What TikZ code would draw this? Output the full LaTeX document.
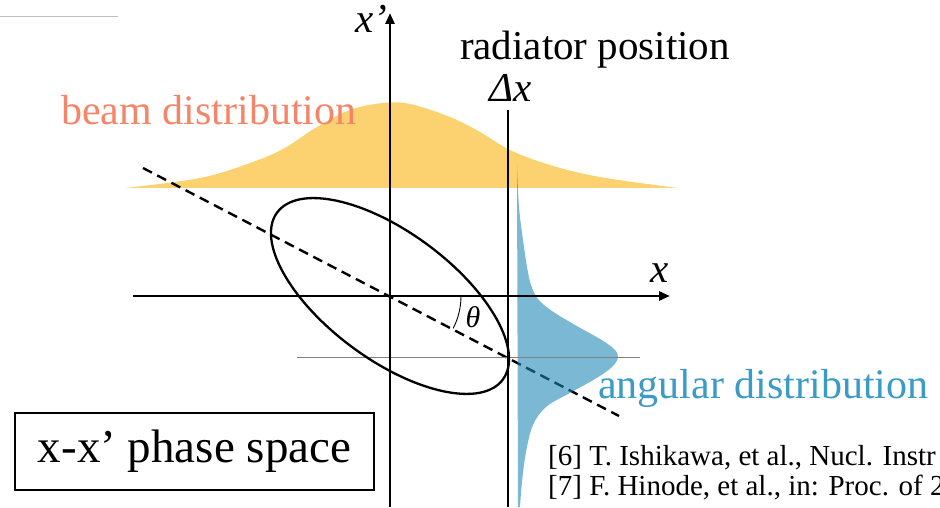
\documentclass[tikz,border=0pt]{standalone}
\usepackage{fontspec}
\setmainfont{Liberation Serif}
\usetikzlibrary{arrows.meta,calc}
\definecolor{beamyellow}{RGB}{252,210,112}
\definecolor{angblue}{RGB}{26,133,181}
\definecolor{beamtext}{RGB}{245,132,104}
\definecolor{angtext}{RGB}{58,155,198}
\begin{document}
\begin{tikzpicture}[x=1pt,y=1pt,
  axisline/.style={line width=2.6pt,-{Triangle[length=11pt,width=9pt]}},
  thickline/.style={line width=2.5pt},
  dashline/.style={line width=2.4pt,dash pattern=on 10pt off 6pt},
  thinline/.style={line width=1pt,gray},
  lbl/.style={inner sep=0pt},
  big/.style={font=\fontsize{41}{41}\selectfont}]
\useasboundingbox (0,0) rectangle (940,507);
\coordinate (O) at (390,211);
\coordinate (xpb) at (390,0);
\coordinate (xpt) at (390,494);
\coordinate (xl) at (133,211);
\coordinate (xr) at (670,211);
\coordinate (rb) at (508,0);
\coordinate (rt) at (508,397);
\coordinate (gl) at (297,150);
\coordinate (gr) at (640,150);
\coordinate (d1) at (143,339);
\coordinate (d2) at (619,91);
\coordinate (tl1) at (0,490);
\coordinate (tl2) at (118,490);
% top-left rule
\draw[line width=1pt,black!25] (tl1) -- (tl2);
% beam distribution
\fill[beamyellow] plot[smooth,tension=0.6] coordinates {(125,319) (200,329) (250,344) (283,358) (317,380) (350,397) (383,404) (410,403) (450,390) (480,375) (510,357) (550,342) (600,330) (678,319)} -- cycle;
% dashed major line
\draw[dashline] (d1) -- (d2);
% angular distribution
\fill[angblue,fill opacity=0.58] (518,0) -- plot[smooth,tension=0.6] coordinates {(517,342) (519,300) (523,267) (527,240) (531,222) (538,208) (552,196) (575,182) (600,168) (614,158) (618,150) (612,140) (595,128) (568,113) (546,100) (533,82) (526,55) (522,25) (520,0)} -- cycle;
% gray reference line
\draw[thinline] (gl) -- (gr);
% ellipse
\draw[line width=2.3pt,rotate around={-36.5:(O)}] (O) ellipse[x radius=140.4, y radius=63.6];
% axes
\draw[axisline] (xpb) -- (xpt);
\draw[axisline] (xl) -- (xr);
\draw[thickline] (rb) -- (rt);
% angle
\draw[line width=0.9pt] ($(O)+(0:71)$) arc[start angle=0,end angle=-27.1,radius=71];
% labels
\node[lbl,big,anchor=base west] (xplabel) at (355,474) {\textit{x’}};
\node[lbl,big,anchor=base] (xlabel) at (660,225) {\textit{x}};
\node[lbl,font=\fontsize{30}{30}\selectfont,anchor=base] (theta) at (473,180) {\textit{θ}};
\node[lbl,big,anchor=base] (radpos) at (595,447) {radiator position};
\node[lbl,big,anchor=base] (dx) at (511,405) {\textit{Δx}};
\node[lbl,font=\fontsize{42}{42}\selectfont,anchor=base west,text=beamtext] (beam) at (61,382) {beam distribution};
\node[lbl,font=\fontsize{42}{42}\selectfont,anchor=base west,text=angtext] (ang) at (598,109) {angular distribution};
\node[draw,line width=1.6pt,minimum width=359pt,minimum height=77pt,inner sep=0pt,font=\fontsize{47}{47}\selectfont] (phase) at (194.5,55.5) {x-x’ phase space};
\node[lbl,font=\fontsize{29}{29}\selectfont,anchor=base west] (ref6) at (548,42) {[6] T. Ishikawa, et al., Nucl. Instr};
\node[lbl,font=\fontsize{29}{29}\selectfont,anchor=base west] (ref7) at (548,12) {[7] F. Hinode, et al., in: Proc. of 2};
\end{tikzpicture}
\end{document}
